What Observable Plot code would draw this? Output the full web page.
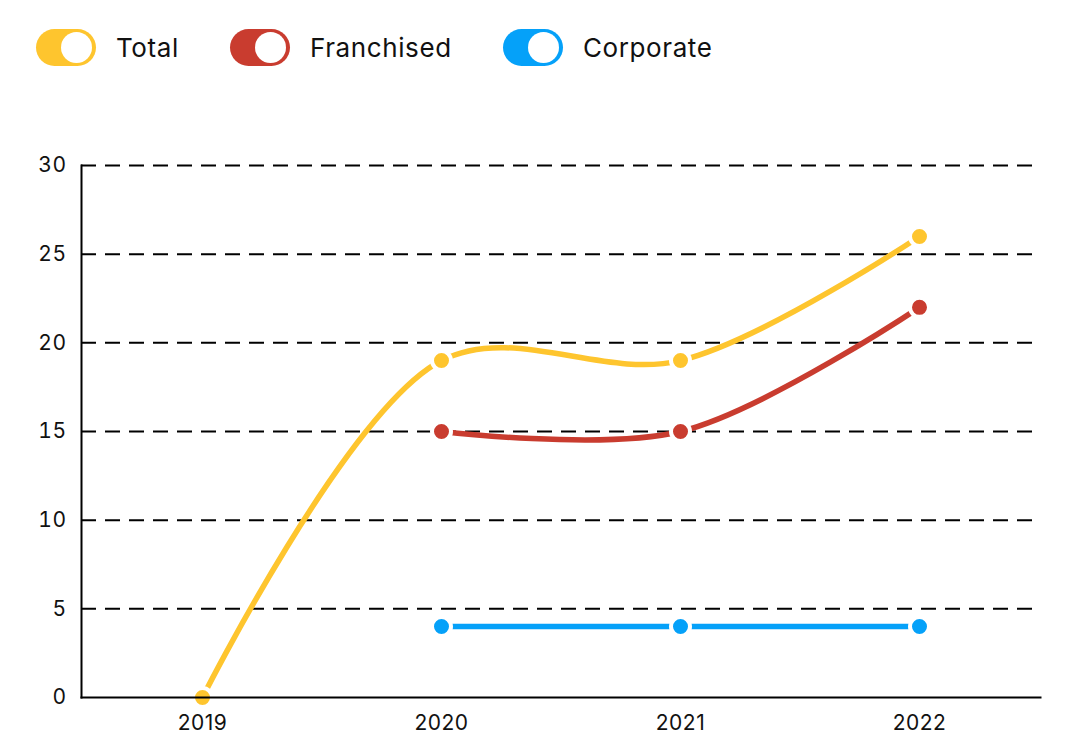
<!DOCTYPE html>
<html><head><meta charset="utf-8">
<script src="https://cdn.jsdelivr.net/npm/d3@7"></script>
<script src="https://cdn.jsdelivr.net/npm/@observablehq/plot@0.6"></script>
<style>
body{margin:0;background:#fff;font-family:Inter, "Open Sans", sans-serif;}
#legend{position:absolute;left:0;top:0;width:1068px;height:100px;}
.item{position:absolute;top:29px;display:flex;align-items:center;}
.pill{width:60px;height:37px;border-radius:19px;position:relative;}
.knob{position:absolute;right:4px;top:3px;width:31px;height:31px;border-radius:50%;background:#fff;}
.lab{margin-left:20px;font-size:26px;letter-spacing:0.6px;color:#111;}
#chart{position:absolute;left:0;top:100px;}
#chart text{letter-spacing:0.5px;}
</style></head>
<body>
<div id="legend"></div>
<div id="chart"></div>
<script>
const years = ["2019","2020","2021","2022"];
const total = [0,19,19,26];
const franchised = [null,15,15,22];
const corporate = [null,4,4,4];
const seriesNames = ["Total","Franchised","Corporate"];
const colors = ["#FEC52E","#C93C2F","#05A1F9"];
const yTicks = [0,5,10,15,20,25,30];

const legendX = [36,230,503];
const legend = document.getElementById("legend");
seriesNames.forEach((n,i)=>{
  const d = document.createElement("div");
  d.className="item"; d.style.left=legendX[i]+"px";
  d.innerHTML = `<div class="pill" style="background:${colors[i]}"><div class="knob"></div></div><span class="lab">${n}</span>`;
  legend.appendChild(d);
});

const rows = [];
[total,franchised,corporate].forEach((arr,si)=>{
  arr.forEach((v,i)=>{ if(v!=null) rows.push({year:years[i],value:v,series:seriesNames[si]}); });
});

const chart = Plot.plot({
  width:1068, height:648,
  marginLeft:81, marginRight:28, marginTop:65, marginBottom:51,
  style:{fontFamily:"Inter, 'Open Sans', sans-serif", fontSize:"21px", color:"#111"},
  x:{type:"point", domain:years, padding:0.5, label:null},
  y:{domain:[0,30], ticks:yTicks, label:null},
  color:{domain:seriesNames, range:colors},
  marks:[
    Plot.gridY(yTicks.filter(t=>t>0), {stroke:"#000", strokeOpacity:1, strokeWidth:2, strokeDasharray:"15,9"}),
    Plot.axisY({ticks:yTicks, tickSize:0, tickPadding:15, fontSize:21, label:null}),
    Plot.axisX({tickSize:0, tickPadding:18, fontSize:21, label:null}),
    Plot.line(rows,{x:"year",y:"value",z:"series",stroke:"series",strokeWidth:5.5,curve:"catmull-rom"}),
    Plot.dot(rows,{x:"year",y:"value",fill:"series",r:9.5,stroke:"#fff",strokeWidth:4}),
    Plot.frame({anchor:"left", stroke:"#000", strokeWidth:2}),
    Plot.frame({anchor:"bottom", stroke:"#000", strokeWidth:2})
  ]
});
document.getElementById("chart").appendChild(chart);
</script>
</body></html>
